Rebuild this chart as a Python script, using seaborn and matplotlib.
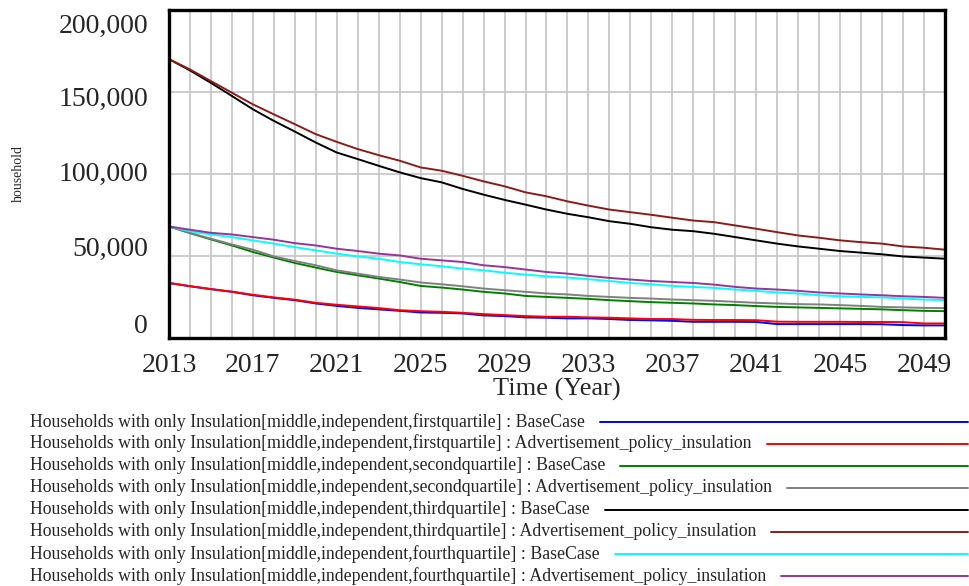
import pandas as pd
import matplotlib
matplotlib.use('Agg')
import matplotlib.pyplot as plt
import seaborn as sns
from matplotlib.lines import Line2D
from matplotlib.transforms import ScaledTranslation

years = list(range(2013, 2051))

first_base = [33400, 31400, 29600, 28000, 25900, 24300, 22900, 20900, 19400, 18200,
              17300, 16400, 15400, 15200, 14800, 13600, 13200, 12400, 12200, 11800,
              11800, 11400, 10800, 10600, 10300, 9700, 9700, 9700, 9600, 8300,
              8300, 8300, 8300, 8300, 8200, 7700, 7500, 7500]
first_adv = [33400, 31500, 29700, 28100, 26200, 24600, 23200, 21300, 20100, 19100,
             18100, 16800, 16200, 15800, 15200, 14400, 13800, 13200, 12800, 12800,
             12400, 12200, 11800, 11400, 11400, 10900, 10800, 10800, 10700, 9800,
             9700, 9700, 9700, 9600, 9600, 9500, 8700, 8700]
second_base = [67900, 63800, 60000, 56300, 52300, 48900, 45600, 42800, 40100, 38100,
               36100, 34000, 31600, 30600, 29400, 28000, 27000, 25500, 24900, 24300,
               23700, 22900, 22300, 21700, 21300, 20900, 20300, 19900, 19300, 18800,
               18500, 18200, 17900, 17600, 17300, 16800, 16400, 16200]
second_adv = [67900, 64000, 60400, 56900, 53700, 49600, 46800, 44200, 41100, 39100,
              37100, 35500, 33700, 32600, 31400, 30000, 29000, 28000, 27000, 26400,
              25500, 24900, 24300, 23900, 23300, 22900, 22500, 21900, 21300, 20900,
              20500, 20300, 19900, 19400, 18800, 18500, 18200, 18100]
third_base = [170000, 163100, 155500, 147500, 139400, 132300, 125800, 119100, 113000, 109000,
              104900, 100900, 97400, 94800, 90800, 87300, 84100, 81200, 78200, 75600,
              73500, 71100, 69500, 67400, 65900, 65000, 63400, 61400, 59400, 57400,
              55700, 54300, 52900, 51900, 50900, 49600, 48900, 48200]
third_adv = [170000, 163700, 156600, 149500, 142400, 136300, 130300, 124200, 119500, 115100,
             111400, 108000, 103900, 101900, 98800, 95400, 92400, 88700, 86300, 83200,
             80600, 78200, 76600, 75000, 73200, 71500, 70500, 68500, 66500, 64400,
             62400, 61000, 59400, 58300, 57400, 55700, 54900, 53700]
fourth_base = [67900, 65000, 63000, 61400, 59400, 57400, 55300, 53300, 51300, 49600,
               48200, 46200, 44800, 43600, 42200, 41100, 39700, 38500, 37500, 36700,
               35700, 34600, 33400, 32600, 31600, 31000, 30400, 29400, 28600, 27600,
               27000, 25900, 25300, 24900, 24600, 23900, 23300, 22900]
fourth_adv = [67900, 65900, 64000, 63000, 61400, 59800, 57700, 56300, 54300, 52900,
              51300, 50200, 48200, 47200, 46200, 44200, 43100, 41600, 40100, 39100,
              37700, 36500, 35500, 34600, 34000, 33400, 32400, 31000, 30000, 29400,
              28600, 27600, 27000, 26400, 25900, 25300, 24900, 24300]

prefix = 'Households with only Insulation[middle,independent,'
labels = [
    prefix + 'firstquartile] : BaseCase',
    prefix + 'firstquartile] : Advertisement_policy_insulation',
    prefix + 'secondquartile] : BaseCase',
    prefix + 'secondquartile] : Advertisement_policy_insulation',
    prefix + 'thirdquartile] : BaseCase',
    prefix + 'thirdquartile] : Advertisement_policy_insulation',
    prefix + 'fourthquartile] : BaseCase',
    prefix + 'fourthquartile] : Advertisement_policy_insulation',
]
series = [first_base, first_adv, second_base, second_adv,
          third_base, third_adv, fourth_base, fourth_adv]
colors = ['#0000ff', '#ff0000', '#008000', '#808080',
          '#000000', '#8b1c1c', '#00ffff', '#993399']

frames = []
for lab, vals in zip(labels, series):
    frames.append(pd.DataFrame({'Year': years, 'Households': vals, 'Series': lab}))
df = pd.concat(frames, ignore_index=True)

sns.set_style('white')
plt.rcParams['font.family'] = ['Liberation Serif', 'DejaVu Serif']

fig = plt.figure(figsize=(9.69, 5.86), dpi=100)
ax = fig.add_axes([0.1744, 0.4237, 0.8008, 0.5593])

sns.lineplot(data=df, x='Year', y='Households', hue='Series',
             palette=dict(zip(labels, colors)), linewidth=1.4,
             legend=False, ax=ax)

ax.set_xlim(2013, 2050)
ax.set_ylim(0, 200000)
ax.set_xticks(list(range(2013, 2050, 4)))
ax.set_xticks(years, minor=True)
ax.set_yticks([0, 50000, 100000, 150000, 200000])
ax.set_yticklabels(['0', '50,000', '100,000', '150,000', '200,000'])
ax.grid(True, which='both', color='#c8c8c8', linewidth=1.3)
ax.set_axisbelow(True)
ax.tick_params(axis='both', which='both', length=0, labelsize=20)
ax.tick_params(axis='x', pad=11)
ax.tick_params(axis='y', pad=15)
for sp in ax.spines.values():
    sp.set_linewidth(2.4)
    sp.set_color('black')

# Vensim spaces the y labels a little tighter than the grid
shifts = [14, 9, 2, -5, -13]
for lab, dy in zip(ax.get_yticklabels(), shifts):
    lab.set_transform(lab.get_transform() + ScaledTranslation(0, dy / 100, fig.dpi_scale_trans))

ax.set_xlabel('Time (Year)', fontsize=19, labelpad=0)
ax.set_ylabel('household', fontsize=10)
ax.yaxis.set_label_coords(-0.186, 0.5)

# legend rows below the chart
fig.canvas.draw()
renderer = fig.canvas.get_renderer()
row_y = [421.7, 443.5, 465.7, 487.7, 510, 531.7, 554, 576]
for lab, col, py in zip(labels, colors, row_y):
    yf = 1 - py / 586
    t = fig.text(30 / 969, yf, lab, fontsize=12.8, va='center', ha='left')
    bb = t.get_window_extent(renderer)
    x0 = (bb.x1 + 15) / 969
    fig.add_artist(Line2D([x0, 968 / 969], [yf, yf], color=col, linewidth=1.4,
                          transform=fig.transFigure))

fig.savefig('out.png', dpi=100)
